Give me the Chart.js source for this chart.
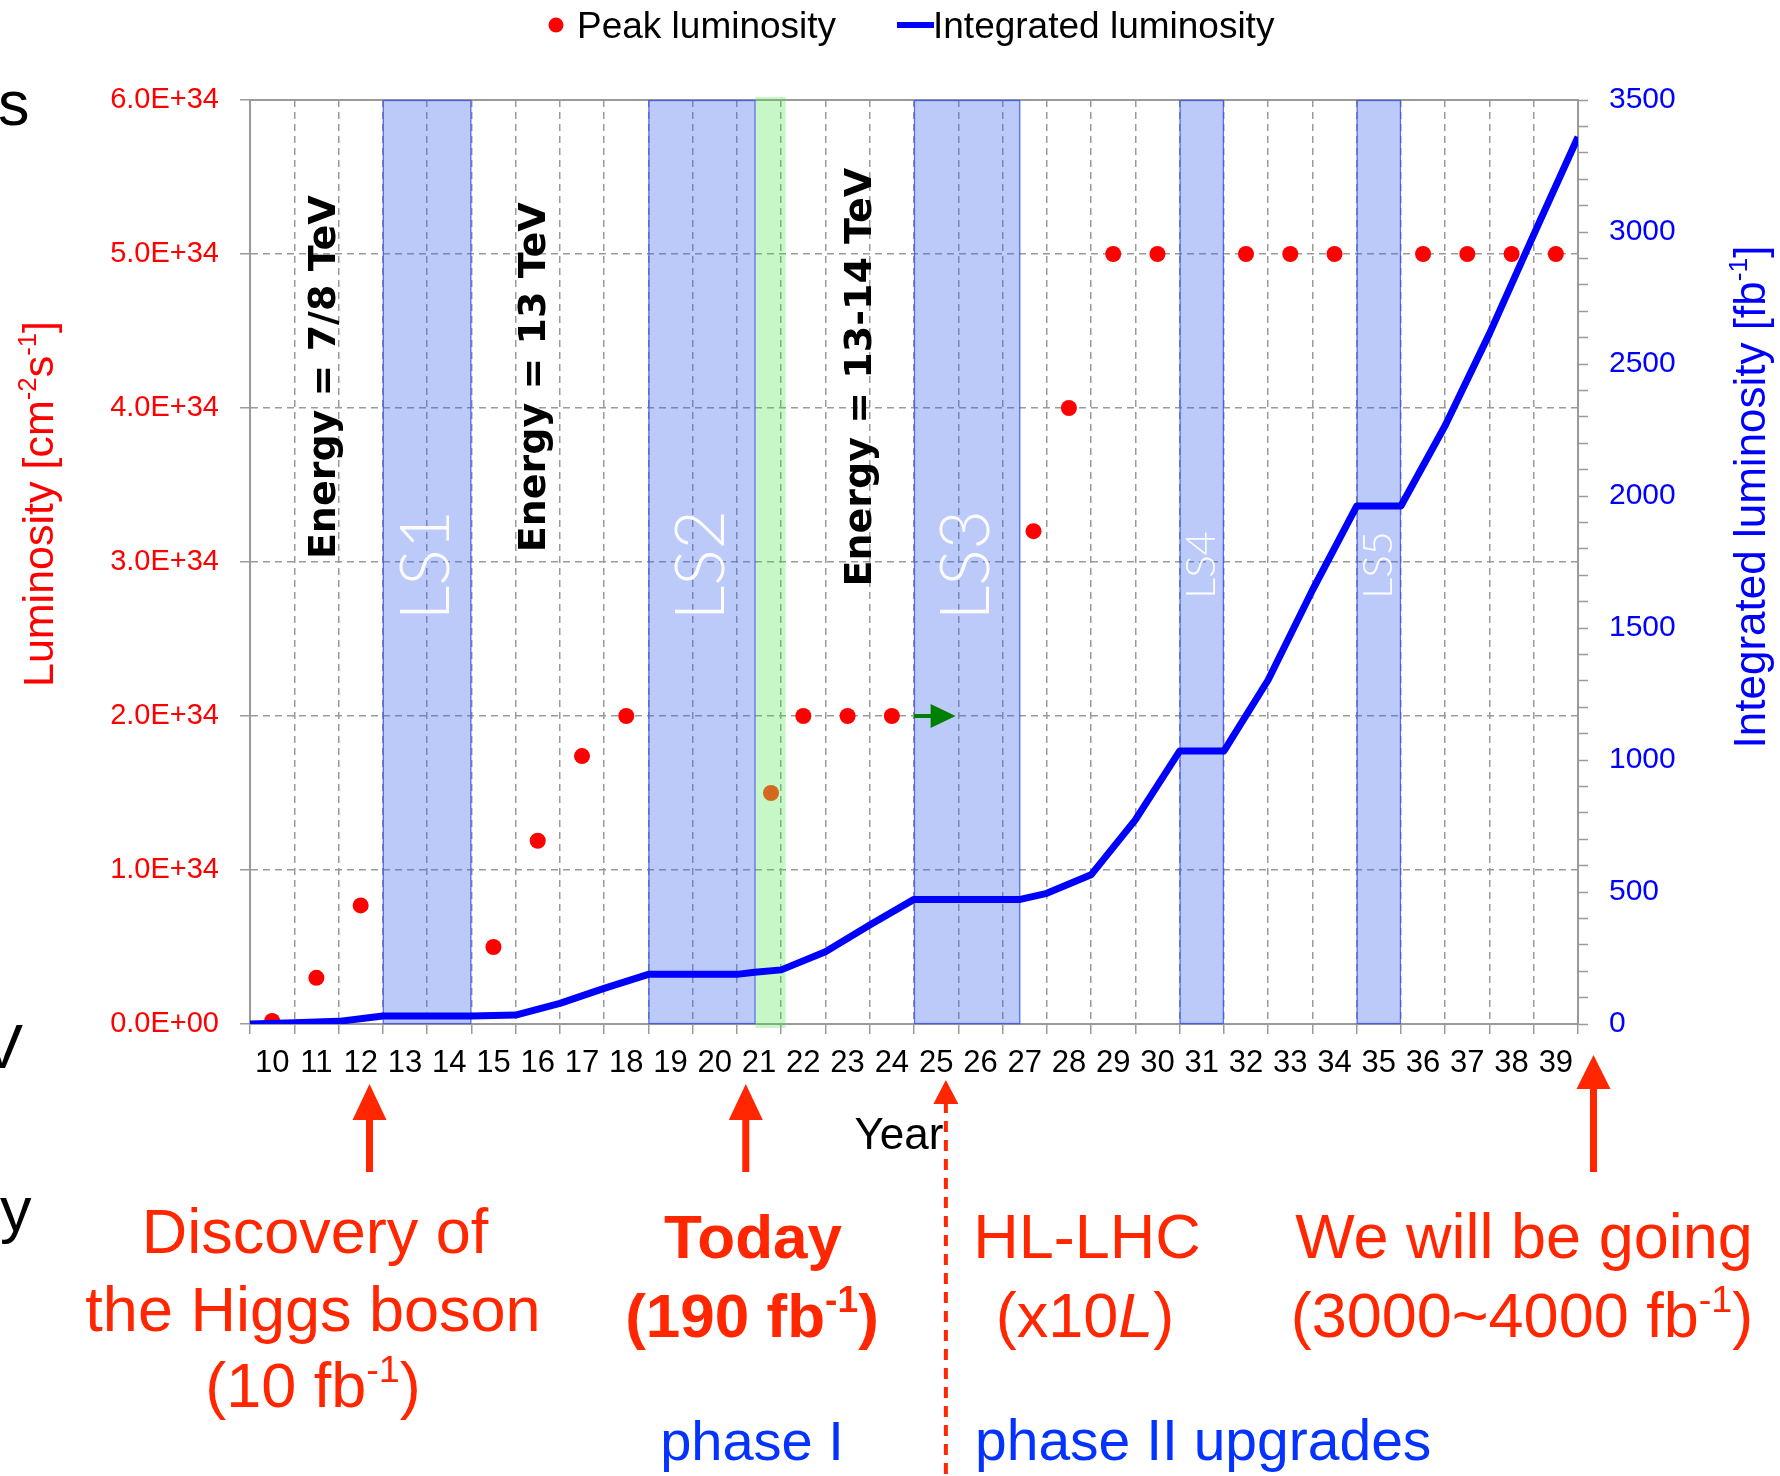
<!DOCTYPE html>
<html><head><meta charset="utf-8">
<script src="https://cdn.jsdelivr.net/npm/chart.js@4.4.1/dist/chart.umd.min.js"></script>
<style>html,body{margin:0;padding:0;background:#fff;}#wrap{position:relative;width:1780px;height:1476px;}</style>
</head><body><div id="wrap"><canvas id="c"></canvas></div>
<script>
// ---------- data ----------
const yearLabels = ['10','11','12','13','14','15','16','17','18','19','20','21','22','23','24','25','26','27','28','29','30','31','32','33','34','35','36','37','38','39'];
const peakYears  = [10, 11, 12, 15, 16, 17, 18, 21.27, 22, 23, 24, 27.2, 28, 29, 30, 32, 33, 34, 36, 37, 38, 39];
const peakLumE34 = [0.02, 0.30, 0.77, 0.50, 1.19, 1.74, 2.0, 1.5, 2.0, 2.0, 2.0, 3.2, 4.0, 5.0, 5.0, 5.0, 5.0, 5.0, 5.0, 5.0, 5.0, 5.0];
const peakIsProjected21 = [false,false,false,false,false,false,false,true,false,false,false,false,false,false,false,false,false,false,false,false,false,false];
const intYears = [9.5,10.5,11.5,12.5,13.5,14.5,15.5,16.5,17.5,18.5,19.5,20.5,20.9,21.5,22.5,23.5,24.5,25.5,26.9,27.5,28.5,29.5,30.5,31.5,32.5,33.5,34.5,35.5,36.5,37.5,38.5,39.5];
const intLumFb  = [0,5,10,30,30,30,34,78,135,188,188,188,196,205,274,375,472,472,472,495,565,773,1034,1034,1303,1643,1962,1962,2267,2615,2990,3360];
const shutdownNames = ['LS1','LS2','LS3','LS4','LS5'];
const shutdownStart = [12.5, 18.5, 24.5, 30.5, 34.5];
const shutdownEnd   = [14.5, 20.92, 26.9, 31.5, 35.5];
const todayBand = [20.92, 21.6];
const energyTexts = ['Energy = 7/8 TeV', 'Energy = 13 TeV', 'Energy = 13-14 TeV'];
const energyAt = [11.42, 16.16, 23.53];
const leftTicks = [0,1,2,3,4,5,6];
const rightTicks = [0,500,1000,1500,2000,2500,3000,3500];

// ---------- styles ----------
const SANS = '"Liberation Sans", Arial, Helvetica, sans-serif';
const NARROW = '"Liberation Sans Narrow", "Arial Narrow", "Liberation Sans", sans-serif';
const RED = '#FF2600', BLUE_T = '#0433FF';
Chart.defaults.font.family = SANS;

function drawRich(ctx, segs, x, y, o) {
  const size = o.size, fam = o.family || SANS, w = o.weight || 'normal';
  const parts = segs.map(([t, k]) => {
    const s = k === 's' ? size * 0.6 : size;
    const st = k === 'i' ? 'italic' : 'normal';
    const f = `${st} ${w} ${s}px ${fam}`;
    ctx.font = f;
    return {t, k, f, w: ctx.measureText(t).width};
  });
  const total = parts.reduce((a, p) => a + p.w, 0);
  let cx = o.align === 'center' ? x - total / 2 : (o.align === 'right' ? x - total : x);
  ctx.fillStyle = o.color; ctx.textBaseline = 'alphabetic'; ctx.textAlign = 'left';
  for (const p of parts) { ctx.font = p.f; ctx.fillText(p.t, cx, p.k === 's' ? y - size * 0.4 : y); cx += p.w; }
}
function drawRotated(ctx, x, y, fn) { ctx.save(); ctx.translate(x, y); ctx.rotate(-Math.PI / 2); fn(); ctx.restore(); }
function upArrow(ctx, x, tip, headH, headW, shaftEnd, shaftW, color, dashed) {
  ctx.save(); ctx.fillStyle = color; ctx.strokeStyle = color;
  ctx.beginPath(); ctx.moveTo(x, tip); ctx.lineTo(x - headW / 2, tip + headH); ctx.lineTo(x + headW / 2, tip + headH); ctx.closePath(); ctx.fill();
  ctx.lineWidth = shaftW;
  if (dashed) ctx.setLineDash([11, 8]);
  ctx.beginPath(); ctx.moveTo(x, tip + headH - 2); ctx.lineTo(x, shaftEnd); ctx.stroke();
  ctx.restore();
}

const decor = {
  id: 'decor',
  beforeDatasetsDraw(chart) {
    const {ctx, chartArea: ca, scales} = chart;
    const xl = scales.xl, y = scales.y;
    ctx.save();
    ctx.strokeStyle = '#9a9a9a'; ctx.lineWidth = 2;
    ctx.beginPath(); ctx.moveTo(ca.left, ca.top); ctx.lineTo(ca.right, ca.top); ctx.stroke();
    for (let i = 0; i < shutdownNames.length; i++) {
      const x1 = xl.getPixelForValue(shutdownStart[i]), x2 = xl.getPixelForValue(shutdownEnd[i]);
      ctx.fillStyle = 'rgba(60,100,240,0.34)';
      ctx.fillRect(x1, ca.top, x2 - x1, ca.bottom - ca.top);
      ctx.strokeStyle = 'rgba(60,80,235,0.75)'; ctx.lineWidth = 1.3;
      ctx.strokeRect(x1 + 0.5, ca.top + 0.5, x2 - x1 - 1, ca.bottom - ca.top - 1);
    }
    const g1 = xl.getPixelForValue(todayBand[0]), g2 = xl.getPixelForValue(todayBand[1]);
    ctx.fillStyle = 'rgba(70,225,70,0.30)';
    ctx.fillRect(g1, ca.top - 3, g2 - g1, ca.bottom - ca.top + 7);
    for (let i = 0; i < energyTexts.length; i++) {
      drawRotated(ctx, xl.getPixelForValue(energyAt[i]), y.getPixelForValue(4.2), () => {
        ctx.font = 'bold 38px "DejaVu Sans", Verdana, sans-serif';
        ctx.fillStyle = '#000'; ctx.textAlign = 'center'; ctx.textBaseline = 'alphabetic';
        ctx.fillText(energyTexts[i], 0, 0);
      });
    }
    for (let i = 0; i < shutdownNames.length; i++) {
      const cx = xl.getPixelForValue((shutdownStart[i] + shutdownEnd[i]) / 2);
      const small = (shutdownEnd[i] - shutdownStart[i]) < 1.5;
      drawRotated(ctx, cx, y.getPixelForValue(2.98), () => {
        ctx.font = `300 ${small ? 42 : 68}px Lato, "Open Sans", sans-serif`;
        ctx.fillStyle = 'rgba(255,255,255,0.95)'; ctx.textAlign = 'center'; ctx.textBaseline = 'middle';
        ctx.fillText(shutdownNames[i], 0, 0);
      });
    }
    ctx.restore();
  },
  afterDatasetsDraw(chart) {
    const {ctx, scales} = chart;
    const xl = scales.xl, y = scales.y;
    const x0 = xl.getPixelForValue(24.5), xt = xl.getPixelForValue(25.44), yy = y.getPixelForValue(2.0);
    ctx.save(); ctx.fillStyle = '#008000'; ctx.strokeStyle = '#008000';
    ctx.lineWidth = 4; ctx.beginPath(); ctx.moveTo(x0, yy); ctx.lineTo(xt - 22, yy); ctx.stroke();
    ctx.beginPath(); ctx.moveTo(xt, yy); ctx.lineTo(xt - 25, yy - 12); ctx.lineTo(xt - 25, yy + 12); ctx.closePath(); ctx.fill();
    ctx.restore();
  },
  afterDraw(chart) {
    const {ctx, scales} = chart;
    const xl = scales.xl;
    ctx.save();
    ctx.fillStyle = '#FF0000'; ctx.beginPath(); ctx.arc(556, 25, 7.5, 0, Math.PI * 2); ctx.fill();
    ctx.strokeStyle = '#0000FF'; ctx.lineWidth = 6; ctx.beginPath(); ctx.moveTo(897, 25); ctx.lineTo(934, 25); ctx.stroke();
    ctx.font = `37px ${SANS}`; ctx.fillStyle = '#000'; ctx.textBaseline = 'alphabetic'; ctx.textAlign = 'left';
    ctx.fillText('Peak luminosity', 577, 38);
    ctx.fillText('Integrated luminosity', 933, 38);
    drawRotated(ctx, 53, 504, () => drawRich(ctx, [['Luminosity [cm','n'],['-2','s'],['s','n'],['-1','s'],[']','n']], 0, 0, {size: 43, color: '#FF0000', align: 'center'}));
    drawRotated(ctx, 1765, 497, () => drawRich(ctx, [['Integrated luminosity [fb','n'],['-1','s'],[']','n']], 0, 0, {size: 44, color: '#0000FF', align: 'center'}));
    ctx.font = `44px ${NARROW}`; ctx.fillStyle = '#000'; ctx.textAlign = 'center';
    ctx.fillText('Year', 899, 1149);
    ctx.font = `63px ${SANS}`; ctx.textAlign = 'left';
    ctx.fillText('s', -2, 125);
    ctx.fillText('V', -19, 1068);
    ctx.fillText('y', 0, 1231);
    upArrow(ctx, xl.getPixelForValue(12.2), 1084, 36, 34, 1172, 7, RED, false);
    upArrow(ctx, xl.getPixelForValue(20.7), 1084, 36, 34, 1172, 7, RED, false);
    upArrow(ctx, xl.getPixelForValue(25.22), 1080, 24, 25, 1476, 4, RED, true);
    upArrow(ctx, xl.getPixelForValue(39.85), 1055, 34, 34, 1172, 7, RED, false);
    drawRich(ctx, [['Discovery of','n']], 315, 1253, {size: 63, color: RED, align: 'center'});
    drawRich(ctx, [['the Higgs boson','n']], 313, 1331, {size: 63, color: RED, align: 'center'});
    drawRich(ctx, [['(10 fb','n'],['-1','s'],[')','n']], 313, 1407, {size: 63, color: RED, align: 'center'});
    drawRich(ctx, [['Today','n']], 753, 1258, {size: 62, color: RED, align: 'center', weight: 'bold'});
    drawRich(ctx, [['(190 fb','n'],['-1','s'],[')','n']], 752, 1337, {size: 62, color: RED, align: 'center', weight: 'bold'});
    drawRich(ctx, [['phase I','n']], 752, 1460, {size: 56, color: BLUE_T, align: 'center'});
    drawRich(ctx, [['HL-LHC','n']], 1087, 1258, {size: 63, color: RED, align: 'center'});
    drawRich(ctx, [['(x10','n'],['L','i'],[')','n']], 1085, 1337, {size: 63, color: RED, align: 'center'});
    drawRich(ctx, [['We will be going','n']], 1524, 1258, {size: 63, color: RED, align: 'center'});
    drawRich(ctx, [['(3000~4000 fb','n'],['-1','s'],[')','n']], 1522, 1337, {size: 63, color: RED, align: 'center'});
    drawRich(ctx, [['phase II upgrades','n']], 975, 1460, {size: 57, color: BLUE_T, align: 'left'});
    ctx.restore();
  }
};

const GRID = '#9a9a9a';
new Chart(document.getElementById('c'), {
  data: {
    labels: yearLabels,
    datasets: [
      {
        type: 'line', label: 'Integrated luminosity', xAxisID: 'xl', yAxisID: 'y1', order: 0,
        data: intYears.map((x, i) => ({x, y: intLumFb[i]})),
        borderColor: '#0000FF', borderWidth: 7, pointRadius: 0, tension: 0, fill: false, borderJoinStyle: 'round'
      },
      {
        type: 'line', label: 'Peak luminosity', xAxisID: 'xl', yAxisID: 'y', order: 1, showLine: false,
        data: peakYears.map((x, i) => ({x, y: peakLumE34[i]})),
        pointRadius: 8, pointBorderWidth: 0,
        pointBackgroundColor: peakIsProjected21.map(p => p ? '#D2691E' : '#FF0000'),
        pointBorderColor: peakIsProjected21.map(p => p ? '#D2691E' : '#FF0000')
      }
    ]
  },
  options: {
    responsive: true, maintainAspectRatio: false, animation: false,
    layout: {padding: {top: 100, left: 0, right: 0, bottom: 0}},
    plugins: {legend: {display: false}, tooltip: {enabled: false}},
    scales: {
      x: {
        type: 'category', position: 'bottom', offset: true,
        grid: {offset: true, color: GRID, lineWidth: 1.5, tickLength: 10, tickColor: GRID, tickBorderDash: [], tickWidth: 1.5},
        border: {display: true, color: GRID, width: 2, dash: [7, 5]},
        ticks: {color: '#000', font: {size: 31, family: NARROW}, padding: 11, autoSkip: false, maxRotation: 0},
        afterFit(s) { s.height = 452; }
      },
      xl: {type: 'linear', display: false, min: 9.5, max: 39.5},
      y: {
        type: 'linear', position: 'left', min: 0, max: 6,
        afterBuildTicks(s) { s.ticks = leftTicks.map(v => ({value: v})); },
        grid: {color: GRID, lineWidth: 1.5, tickLength: 10, tickColor: GRID, tickBorderDash: [], tickWidth: 1.5},
        border: {display: true, color: GRID, width: 2, dash: [7, 5]},
        ticks: {color: '#FF0000', font: {size: 29, family: SANS}, padding: 21,
          callback: v => v === 0 ? '0.0E+00' : v.toFixed(1) + 'E+34'},
        afterFit(s) { s.width = 250; }
      },
      y1: {
        type: 'linear', position: 'right', min: 0, max: 3500,
        ticks: {stepSize: 100, maxTicksLimit: 100, autoSkip: false, color: '#0000FF', font: {size: 30, family: SANS}, padding: 21,
          callback: v => (rightTicks.includes(v) ? String(v) : '')},
        grid: {drawOnChartArea: false, tickLength: 10, tickColor: GRID, tickWidth: 1.5},
        border: {display: true, color: GRID, width: 2},
        afterFit(s) { s.width = 202; }
      }
    }
  },
  plugins: [decor]
});
</script>
</body></html>
